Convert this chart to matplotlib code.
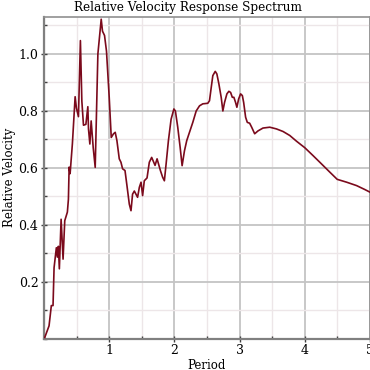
import matplotlib
matplotlib.use("Agg")
import matplotlib.pyplot as plt
from matplotlib.ticker import MultipleLocator, FixedLocator

period = [0.011, 0.077, 0.112, 0.138, 0.154, 0.189, 0.205, 0.22, 0.235, 0.262,
          0.292, 0.318, 0.358, 0.374, 0.385, 0.40, 0.435, 0.477, 0.497, 0.528,
          0.558, 0.58, 0.605, 0.642, 0.672, 0.682, 0.703, 0.723, 0.754, 0.785,
          0.826, 0.877, 0.897, 0.928, 0.958, 1.0, 1.031, 1.066, 1.092, 1.118,
          1.154, 1.18, 1.205, 1.242, 1.272, 1.308, 1.334, 1.358, 1.385, 1.435,
          1.462, 1.488, 1.512, 1.538, 1.58, 1.615, 1.651, 1.703, 1.734, 1.785,
          1.82, 1.846, 1.872, 1.908, 1.949, 1.992, 2.015, 2.051, 2.088, 2.118,
          2.154, 2.189, 2.231, 2.282, 2.334, 2.385, 2.435, 2.512, 2.538, 2.565,
          2.589, 2.626, 2.651, 2.682, 2.718, 2.743, 2.769, 2.805, 2.835, 2.862,
          2.888, 2.912, 2.938, 2.958, 2.985, 3.015, 3.042, 3.062, 3.092, 3.118,
          3.154, 3.185, 3.231, 3.282, 3.358, 3.462, 3.565, 3.666, 3.769, 3.872,
          4.0, 4.128, 4.257, 4.385, 4.497, 4.642, 4.795, 4.923, 5.0]
velocity = [0.005, 0.046, 0.117, 0.117, 0.25, 0.32, 0.287, 0.325, 0.246, 0.42,
            0.28, 0.415, 0.445, 0.49, 0.603, 0.58, 0.685, 0.85, 0.81, 0.78,
            1.047, 0.835, 0.75, 0.753, 0.815, 0.737, 0.684, 0.765, 0.672, 0.602,
            1.0, 1.122, 1.08, 1.065, 1.01, 0.847, 0.707, 0.72, 0.725, 0.696,
            0.632, 0.62, 0.597, 0.591, 0.538, 0.473, 0.45, 0.508, 0.519, 0.497,
            0.532, 0.55, 0.503, 0.555, 0.565, 0.62, 0.637, 0.609, 0.632, 0.591,
            0.567, 0.555, 0.613, 0.696, 0.771, 0.807, 0.80, 0.743, 0.672, 0.608,
            0.66, 0.696, 0.725, 0.76, 0.80, 0.818, 0.825, 0.827, 0.836, 0.883,
            0.924, 0.939, 0.93, 0.895, 0.847, 0.80, 0.83, 0.86, 0.869, 0.865,
            0.848, 0.848, 0.83, 0.813, 0.842, 0.86, 0.854, 0.83, 0.778, 0.76,
            0.757, 0.743, 0.72, 0.73, 0.74, 0.743, 0.737, 0.728, 0.714, 0.694,
            0.671, 0.643, 0.614, 0.585, 0.56, 0.55, 0.538, 0.524, 0.515]

x_ticks = [1, 2, 3, 4, 5]
y_ticks = [0.2, 0.4, 0.6, 0.8, 1.0]

plt.rcParams['font.family'] = 'DejaVu Serif'

fig = plt.figure(figsize=(3.7, 3.7), dpi=100)
ax = fig.add_axes([0.119, 0.084, 0.881, 0.871])

ax.plot(period, velocity, color='#7b0a1c', linewidth=1.2, zorder=3)

ax.set_xlim(0, 5)
ax.set_ylim(0, 1.131)
ax.xaxis.set_major_locator(FixedLocator(x_ticks))
ax.yaxis.set_major_locator(FixedLocator(y_ticks))
ax.set_xticklabels([str(t) for t in x_ticks])
ax.set_yticklabels([f"{t:.1f}" for t in y_ticks])
ax.xaxis.set_minor_locator(MultipleLocator(0.5))
ax.yaxis.set_minor_locator(MultipleLocator(0.1))

ax.grid(which='major', color='#c4c4c4', linewidth=1.3, zorder=0)
ax.grid(which='minor', color='#ede6e8', linewidth=1.0, zorder=0)
ax.set_axisbelow(True)

for side in ['left', 'bottom']:
    ax.spines[side].set_color('#808080')
    ax.spines[side].set_linewidth(1.6)
for side in ['top', 'right']:
    ax.spines[side].set_color('#909090')
    ax.spines[side].set_linewidth(1.2)

ax.tick_params(which='major', direction='inout', length=4, width=1,
               color='#404040', labelsize=9, pad=2)
ax.tick_params(which='minor', direction='in', length=2.5, width=1,
               color='#404040')

# title is centred on the figure, not the axes
fig.text(0.507, 0.962, "Relative Velocity Response Spectrum", fontsize=8.7,
         ha='center', va='bottom')
ax.set_xlabel("Period", fontsize=8.5, labelpad=1)
ax.set_ylabel("Relative Velocity", fontsize=8.5, labelpad=2)

fig.savefig("out.png", dpi=100)
